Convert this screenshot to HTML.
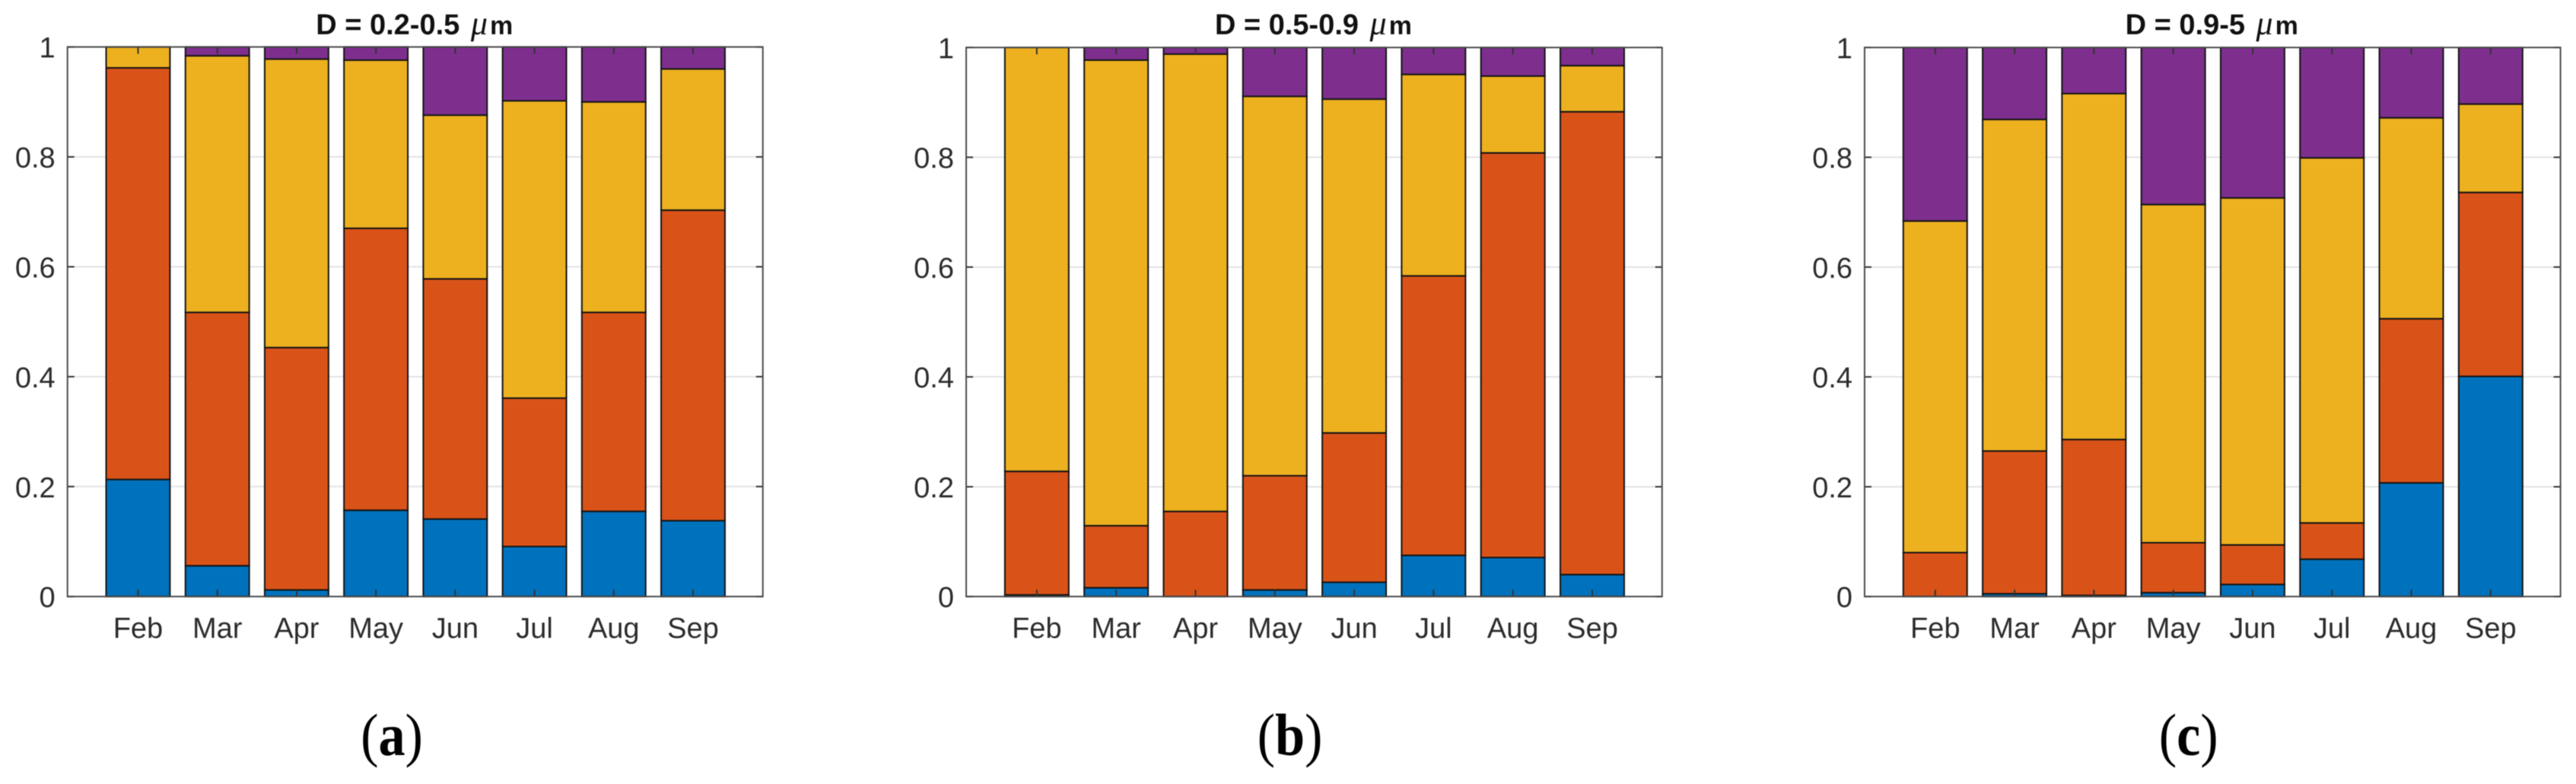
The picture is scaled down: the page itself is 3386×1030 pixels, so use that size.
<!DOCTYPE html>
<html lang="en">
<head>
<meta charset="utf-8">
<title>Stacked monthly fractions by particle size</title>
<style>
html,body{margin:0;padding:0;background:#fff;width:3386px;height:1030px;overflow:hidden}
svg{display:block;filter:blur(0.45px)}
.tick-label{font-family:"Liberation Sans",sans-serif;font-size:38px;fill:#2b2b2b}
.title{font-family:"Liberation Sans",sans-serif;font-weight:bold;font-size:38px;fill:#111;text-anchor:middle}
.mu{font-family:"Liberation Serif",serif;font-style:italic;font-weight:normal;font-size:44px}
.unit{font-size:34px}
.caption{font-family:"Liberation Serif",serif;font-size:78px;fill:#000;text-anchor:middle}
.caption .letter{font-weight:bold}
</style>
</head>
<body>
<svg id="fig" xmlns="http://www.w3.org/2000/svg" width="3386" height="1030" viewBox="0 0 3386 1030"></svg>
<script>
const months = ["Feb","Mar","Apr","May","Jun","Jul","Aug","Sep"];
const yTicks = [0,0.2,0.4,0.6,0.8,1];
const yTickLabels = ["0","0.2","0.4","0.6","0.8","1"];

const aBlue   = [0.213,0.056,0.012,0.157,0.141,0.091,0.155,0.138];
const aOrange = [0.749,0.461,0.441,0.513,0.437,0.270,0.362,0.565];
const aYellow = [0.038,0.467,0.525,0.306,0.298,0.541,0.383,0.257];
const aPurple = [0.000,0.016,0.022,0.024,0.124,0.098,0.100,0.040];

const bBlue   = [0.003,0.016,0.000,0.012,0.026,0.075,0.071,0.040];
const bOrange = [0.225,0.113,0.155,0.208,0.272,0.509,0.737,0.843];
const bYellow = [0.772,0.848,0.833,0.691,0.608,0.367,0.140,0.084];
const bPurple = [0.000,0.023,0.012,0.089,0.094,0.049,0.052,0.033];

const cBlue   = [0.000,0.005,0.002,0.007,0.022,0.068,0.207,0.401];
const cOrange = [0.080,0.260,0.284,0.091,0.072,0.066,0.299,0.335];
const cYellow = [0.604,0.604,0.630,0.616,0.632,0.665,0.366,0.161];
const cPurple = [0.316,0.131,0.084,0.286,0.274,0.201,0.128,0.103];

const seriesColors = ["#0072BD","#D95319","#EDB120","#7E2F8E"];
const seriesNames = ["blue","orange","yellow","purple"];

const panels = [
  {id:"a", title:"D = 0.2-0.5", left:88.7,  right:1002.7, top:61.7, bottom:783.7, captionX:515,    series:[aBlue,aOrange,aYellow,aPurple]},
  {id:"b", title:"D = 0.5-0.9", left:1270,  right:2184.7, top:62.4, bottom:783.7, captionX:1695.5, series:[bBlue,bOrange,bYellow,bPurple]},
  {id:"c", title:"D = 0.9-5",   left:2450.9,right:3365.6, top:62.4, bottom:783.7, captionX:2876.7, series:[cBlue,cOrange,cYellow,cPurple]}
];

const NS = "http://www.w3.org/2000/svg";
const svg = document.getElementById("fig");
const xMin = 0.11, xMax = 8.88, barWidth = 0.805;

function make(tag, attrs, parent){
  const el = document.createElementNS(NS, tag);
  for (const k in attrs) el.setAttribute(k, attrs[k]);
  parent.appendChild(el);
  return el;
}

panels.forEach(function(p){
  const xScale = function(v){ return p.left + (v - xMin) / (xMax - xMin) * (p.right - p.left); };
  const yScale = function(v){ return p.bottom - v * (p.bottom - p.top); };

  const g = make("g", {}, svg);
  
  

  // gridlines
  yTicks.forEach(function(t, i){
    if (t === 0 || t === 1) return;
    const line = make("line", {x1:p.left, x2:p.right, y1:yScale(t), y2:yScale(t), stroke:"#e3e3e3", "stroke-width":2}, g);
    
    
  });

  // stacked bars
  months.forEach(function(m, i){
    let base = 0;
    p.series.forEach(function(values, s){
      const v = values[i];
      const x0 = xScale(i + 1 - barWidth / 2), x1 = xScale(i + 1 + barWidth / 2);
      const y1 = yScale(base), y0 = yScale(base + v);
      const r = make("rect", {x:x0, y:y0, width:x1 - x0, height:y1 - y0, fill:seriesColors[s], stroke:"#141414", "stroke-width":2}, g);
      
      
      base += v;
    });
  });

  // y ticks and labels
  yTicks.forEach(function(t, i){
    const y = yScale(t);
    const tl = make("path", {d:"M" + p.left + " " + y + "h9M" + p.right + " " + y + "h-9", stroke:"#333", "stroke-width":2, fill:"none"}, g);
    
    
    const label = make("text", {x:p.left - 16, y:y + 14, "text-anchor":"end", "class":"tick-label"}, g);
    label.textContent = yTickLabels[i];
    
    
  });

  // x ticks and labels
  months.forEach(function(m, i){
    const x = xScale(i + 1);
    const tl = make("path", {d:"M" + x + " " + p.bottom + "v-9M" + x + " " + p.top + "v9", stroke:"#333", "stroke-width":2, fill:"none"}, g);
    
    
    const label = make("text", {x:x, y:838, "text-anchor":"middle", "class":"tick-label"}, g);
    label.textContent = m;
    
    
  });

  // axes box
  const box = make("rect", {x:p.left, y:p.top, width:p.right - p.left, height:p.bottom - p.top, fill:"none", stroke:"#4a4a4a", "stroke-width":2}, g);
  
  

  // title
  const title = make("text", {x:(p.left + p.right) / 2 - 1, y:45, "class":"title"}, g);
  
  
  title.appendChild(document.createTextNode(p.title + "\u00A0"));
  const mu = make("tspan", {"class":"mu", dx:4}, title);
  mu.textContent = "\u03BC";
  const unit = make("tspan", {"class":"unit", dx:3}, title);
  unit.textContent = "m";

  // caption
  const cap = make("text", {x:0, y:0, transform:"translate(" + p.captionX + " 992) scale(0.9 1)", "class":"caption"}, g);
  
  
  cap.appendChild(document.createTextNode("("));
  const letter = make("tspan", {"class":"letter"}, cap);
  letter.textContent = p.id;
  cap.appendChild(document.createTextNode(")"));
});
</script>
</body>
</html>
